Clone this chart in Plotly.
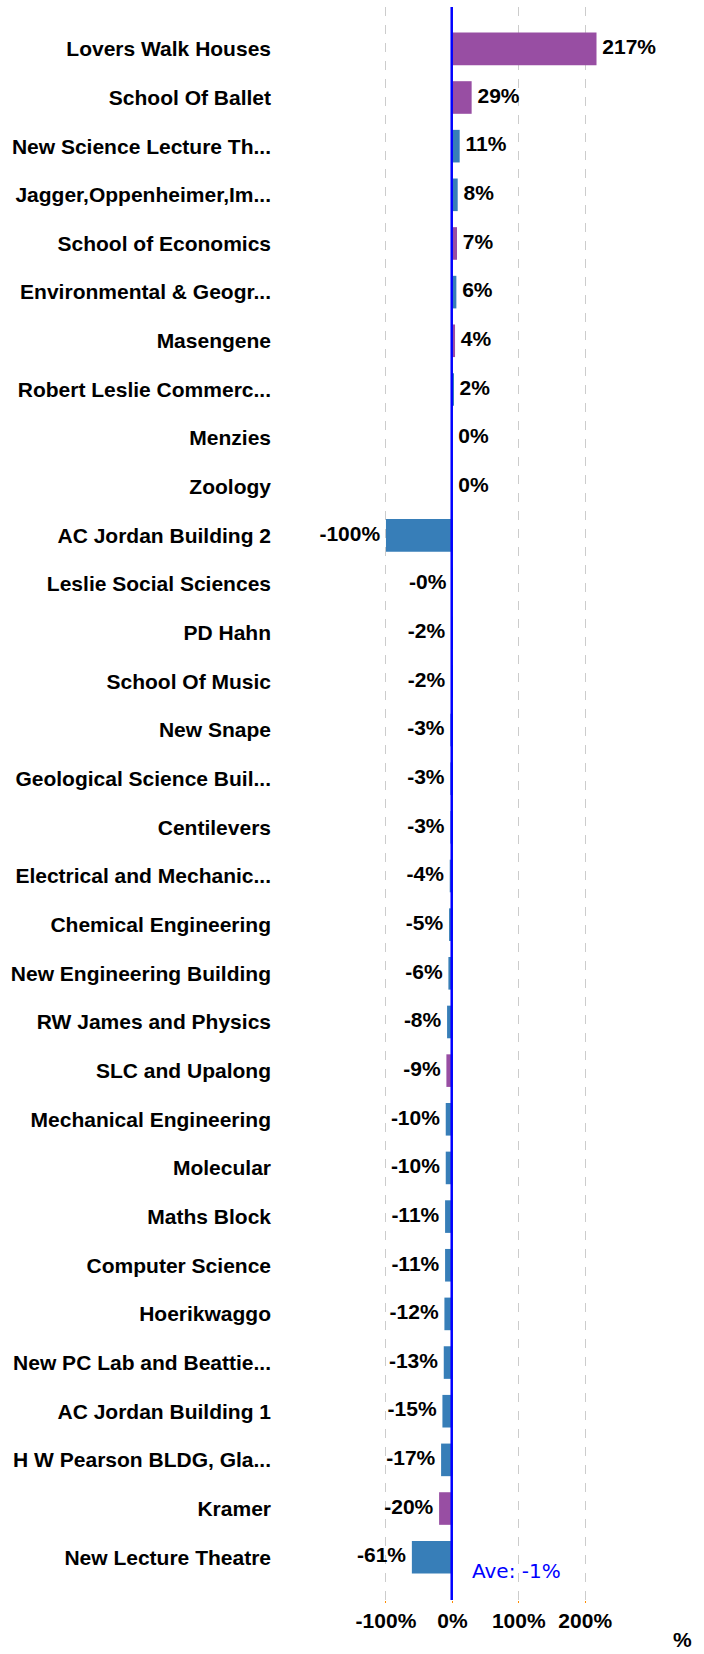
import plotly.graph_objects as go

categories = [
    "Lovers Walk Houses", "School Of Ballet", "New Science Lecture Th...",
    "Jagger,Oppenheimer,Im...", "School of Economics", "Environmental & Geogr...",
    "Masengene", "Robert Leslie Commerc...", "Menzies", "Zoology",
    "AC Jordan Building 2", "Leslie Social Sciences", "PD Hahn", "School Of Music",
    "New Snape", "Geological Science Buil...", "Centilevers",
    "Electrical and Mechanic...", "Chemical Engineering", "New Engineering Building",
    "RW James and Physics", "SLC and Upalong", "Mechanical Engineering",
    "Molecular", "Maths Block", "Computer Science", "Hoerikwaggo",
    "New PC Lab and Beattie...", "AC Jordan Building 1", "H W Pearson BLDG, Gla...",
    "Kramer", "New Lecture Theatre",
]
values = [217, 29, 11, 8, 7, 6, 4, 2, 0, 0,
          -100, -0.3, -2, -2, -3, -3, -3, -4, -5, -6,
          -8, -9, -10, -10, -11, -11, -12, -13, -15, -17,
          -20, -61]
groups = ["p", "p", "b", "b", "p", "b", "p", "b", "b", "b",
          "b", "b", "b", "b", "b", "b", "b", "b", "b", "b",
          "b", "p", "b", "b", "b", "b", "b", "b", "b", "b",
          "p", "b"]
average = -1
x_ticks = [-100, 0, 100, 200]
x_tick_labels = ["-100%", "0%", "100%", "200%"]

BLUE = "#377eb8"
PURPLE = "#984ea3"
colors = [PURPLE if g == "p" else BLUE for g in groups]
labels = [f"{v:.0f}%" for v in values]

fig = go.Figure()
fig.add_trace(go.Bar(
    y=categories, x=values, orientation="h",
    marker=dict(color=colors, line=dict(width=0)),
    width=0.67, hoverinfo="skip", showlegend=False,
))

pos_x = [v for v in values if v >= 0]
pos_y = [c for c, v in zip(categories, values) if v >= 0]
pos_t = [t for t, v in zip(labels, values) if v >= 0]
neg_x = [v for v in values if v < 0]
neg_y = [c for c, v in zip(categories, values) if v < 0]
neg_t = [t for t, v in zip(labels, values) if v < 0]

lab_font = dict(family="Liberation Sans, Arial, sans-serif", size=21, color="#000000",
                weight="bold")
fig.add_trace(go.Scatter(
    x=pos_x, y=pos_y, text=[" " + t for t in pos_t], mode="text",
    textposition="middle right", textfont=lab_font, cliponaxis=False,
    showlegend=False, hoverinfo="skip",
))
fig.add_trace(go.Scatter(
    x=neg_x, y=neg_y, text=[t + " " for t in neg_t], mode="text",
    textposition="middle left", textfont=lab_font, cliponaxis=False,
    showlegend=False, hoverinfo="skip",
))

# average line
fig.add_shape(type="line", xref="x", yref="paper", x0=average, x1=average,
              y0=0, y1=1, line=dict(color="#0000ff", width=2.5), layer="above")
fig.add_annotation(xref="x", yref="y", x=average, y=categories[-1],
                   text=f"Ave: {average}%", showarrow=False,
                   xanchor="left", yanchor="middle", xshift=18, yshift=-14,
                   font=dict(family="DejaVu Sans, Verdana, sans-serif", size=20,
                             color="#0000ff"))
fig.add_annotation(xref="paper", yref="paper", x=1.14, y=0, yshift=-39,
                   text="<b>%</b>", showarrow=False, xanchor="center", yanchor="middle",
                   font=dict(family="Liberation Sans, Arial, sans-serif", size=21,
                             color="#000000"))

fig.update_layout(
    width=704, height=1654,
    margin=dict(l=376, r=59, t=7, b=54),
    paper_bgcolor="white", plot_bgcolor="white",
    bargap=0.33,
    xaxis=dict(
        range=[-115, 290], tickvals=x_ticks, ticktext=x_tick_labels,
        showgrid=True, gridcolor="#cccccc", griddash="dash", gridwidth=1,
        zeroline=False, showline=False,
        ticks="outside", ticklen=2, tickcolor="#ff8c00", tickwidth=1,
        tickfont=lab_font,
    ),
    yaxis=dict(
        categoryorder="array", categoryarray=categories,
        autorange=False, range=[31.88, -0.86],
        showgrid=False, zeroline=False, showline=False,
        ticks="", tickfont=lab_font, ticklabelstandoff=104,
    ),
)

fig.write_html("out.html", config={"displayModeBar": False},
               post_script="document.body.style.margin='0';document.body.style.overflow='hidden';")
